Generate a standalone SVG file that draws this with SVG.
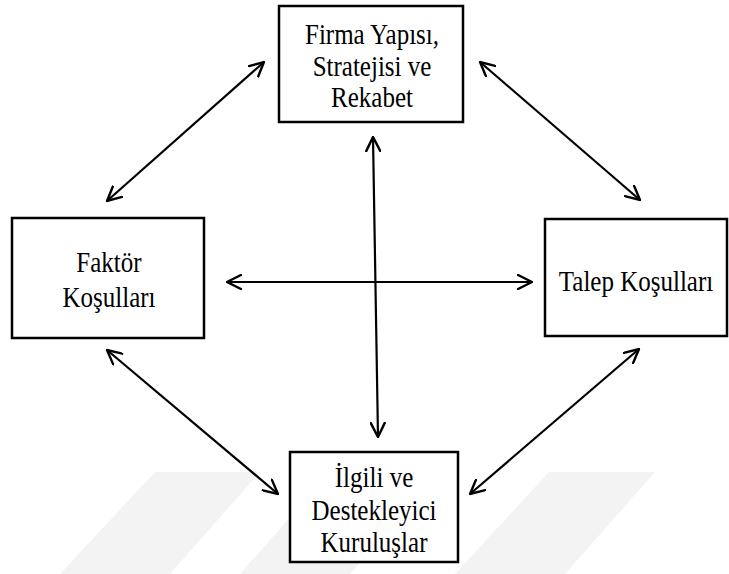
<svg xmlns="http://www.w3.org/2000/svg" width="729" height="574" viewBox="0 0 729 574">
<style>
.box{fill:#fff;stroke:#000;stroke-width:2.5}
.lbl{font-family:"Liberation Serif","Times New Roman",serif;font-size:25px;fill:#000;text-anchor:middle}
.con{stroke:#000;stroke-width:2.2;fill:none;marker-start:url(#ah);marker-end:url(#ah)}
.wm{fill:#f3f3f3}
</style>
<defs>
<marker id="ah" viewBox="0 0 16 16" refX="15" refY="8" markerWidth="16" markerHeight="16" markerUnits="userSpaceOnUse" orient="auto-start-reverse">
<path d="M1,1 L15,8 L1,15" fill="none" stroke="#000" stroke-width="2.4" stroke-linecap="round" stroke-linejoin="miter"/>
</marker>
</defs>
<rect width="729" height="574" fill="#fff"/>
<g id="watermark">
<polygon class="wm" points="155,472 260,472 170,574 60,574"/>
<polygon class="wm" points="330,472 440,472 350,574 240,574"/>
<polygon class="wm" points="549,472 655,472 565,574 455,574"/>
</g>
<g id="connectors">
<line class="con" x1="107" y1="201" x2="264" y2="62"/>
<line class="con" x1="480" y1="62" x2="640" y2="200"/>
<line class="con" x1="227" y1="282" x2="532" y2="282"/>
<line class="con" x1="373" y1="137" x2="378" y2="437"/>
<line class="con" x1="107" y1="350" x2="278" y2="494"/>
<line class="con" x1="639" y1="349" x2="470" y2="494"/>
</g>
<g id="firma">
<rect class="box" x="279" y="6" width="184" height="116"/>
<text class="lbl" transform="translate(372,44) scale(1,1.15)">Firma Yapısı,</text>
<text class="lbl" transform="translate(372,76) scale(1,1.15)">Stratejisi ve</text>
<text class="lbl" transform="translate(372,107) scale(1,1.15)">Rekabet</text>
</g>
<g id="faktor">
<rect class="box" x="12" y="218" width="192" height="120"/>
<text class="lbl" transform="translate(109,272) scale(1,1.15)">Faktör</text>
<text class="lbl" transform="translate(109,307) scale(1,1.15)">Koşulları</text>
</g>
<g id="talep">
<rect class="box" x="545" y="219" width="182" height="117"/>
<text class="lbl" transform="translate(636,291) scale(1,1.15)">Talep Koşulları</text>
</g>
<g id="ilgili">
<rect class="box" x="290" y="452" width="168" height="110"/>
<text class="lbl" transform="translate(374,487) scale(1,1.15)">İlgili ve</text>
<text class="lbl" transform="translate(374,520) scale(1,1.15)">Destekleyici</text>
<text class="lbl" transform="translate(374,552) scale(1,1.15)">Kuruluşlar</text>
</g>
</svg>
